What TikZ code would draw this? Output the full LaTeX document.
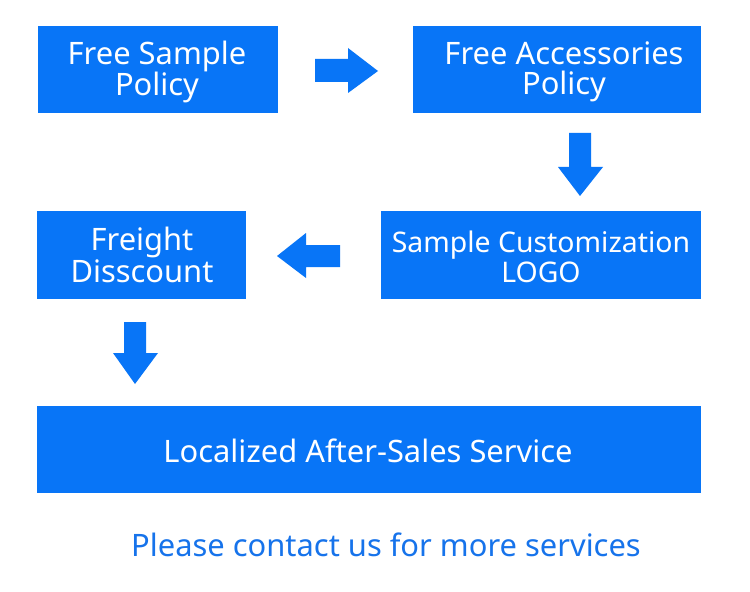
\documentclass[tikz,border=0pt]{standalone}
\usepackage{fontspec}
\setmainfont{Noto Sans}
\definecolor{boxblue}{RGB}{8,117,247}
\definecolor{txtblue}{RGB}{22,115,235}
\begin{document}
\begin{tikzpicture}[x=1bp,y=-1bp,
  box/.style={fill=boxblue,text=white,align=center,inner sep=0pt,
    font=\fontsize{31}{30}\selectfont},
  blockarrow/.style={fill=boxblue,draw=none}]
\useasboundingbox[fill=white] (0,0) rectangle (750,592);
% boxes
\fill[boxblue] (38,26) rectangle (278,113);
\node[box] (b1) at (157,72) {Free Sample\\Policy};
\fill[boxblue] (413,26) rectangle (701,113);
\node[box] (b2) at (564,72) {Free Accessories\\Policy};
\fill[boxblue] (381,211) rectangle (701,299);
\node[box,font=\fontsize{28.5}{30}\selectfont] (b3) at (541,257) {Sample Customization\\LOGO};
\fill[boxblue] (37,211) rectangle (246,299);
\node[box] (b4) at (142,255) {Freight\\Disscount};
\fill[boxblue] (37,406) rectangle (701,493);
\node[box] (b5) at (368,451) {Localized After-Sales Service};
\node[text=txtblue,font=\fontsize{31}{30}\selectfont,inner sep=0pt] (note) at (386,545) {Please contact us for more services};
% block arrows
\fill[blockarrow] (315,59) -- (348,59) -- (348,48) -- (378,71) -- (348,93) -- (348,82) -- (315,82) -- cycle;
\fill[blockarrow] (569,133) -- (591,133) -- (591,167) -- (603,167) -- (580,196) -- (558,167) -- (569,167) -- cycle;
\fill[blockarrow] (340,245) -- (306,245) -- (306,233) -- (277,256) -- (306,278) -- (306,267) -- (340,267) -- cycle;
\fill[blockarrow] (124,322) -- (146,322) -- (146,353) -- (158,353) -- (135,384) -- (113,353) -- (124,353) -- cycle;
\end{tikzpicture}
\end{document}
